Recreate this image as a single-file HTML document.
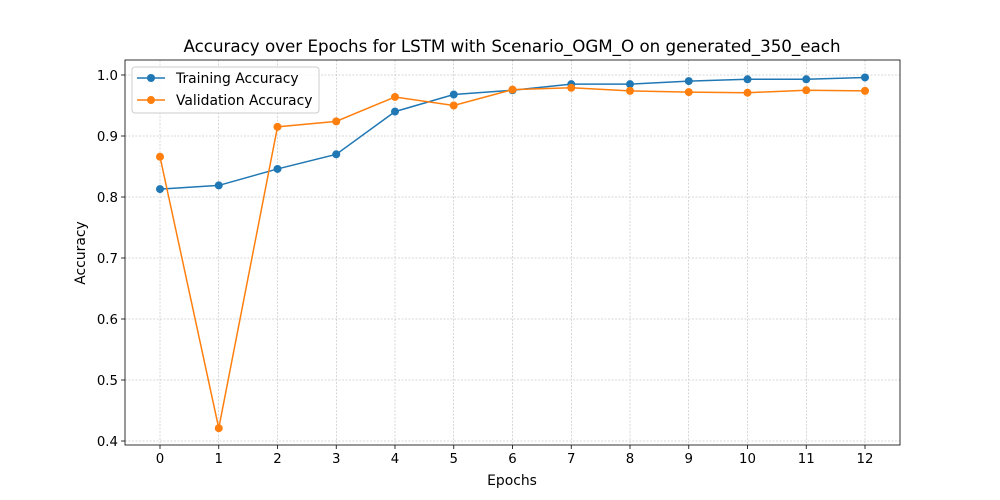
<!DOCTYPE html>
<html><head><meta charset="utf-8"><style>
body{margin:0;background:#fff;}
svg{display:block;font-family:"DejaVu Sans","Liberation Sans",sans-serif;}
</style></head><body>
<svg id="chart" width="1000" height="500"></svg>
<script>
const epochs=[0,1,2,3,4,5,6,7,8,9,10,11,12];
const trainAcc=[0.813,0.819,0.846,0.870,0.940,0.968,0.975,0.985,0.985,0.990,0.993,0.993,0.996];
const valAcc=[0.866,0.421,0.915,0.924,0.964,0.950,0.976,0.979,0.974,0.972,0.971,0.975,0.974];
const yTicks=[0.4,0.5,0.6,0.7,0.8,0.9,1.0];
const yTickLabels=["0.4","0.5","0.6","0.7","0.8","0.9","1.0"];

const NS="http://www.w3.org/2000/svg";
const svg=document.getElementById('chart');
const L=125,R=900,T=60,B=445;
const x=v=>160+v*(865-160)/12;
const y=v=>75+(1.0-v)*610;
function mk(tag,attrs,parent){const e=document.createElementNS(NS,tag);for(const k in attrs)e.setAttribute(k,attrs[k]);(parent||svg).appendChild(e);return e;}

const grid=mk('g',{});


epochs.forEach(e=>{
  mk('line',{x1:x(e),x2:x(e),y1:T,y2:B,stroke:'#b0b0b0','stroke-width':0.5,'stroke-dasharray':'2,1.5'},grid);
  mk('line',{x1:x(e),x2:x(e),y1:B,y2:B+4,stroke:'#000','stroke-width':0.8});
  const t=mk('text',{x:x(e),y:B+18,'text-anchor':'middle','font-size':13.3,fill:'#000'});
  t.textContent=e;
  
  
});
yTicks.forEach((v,i)=>{
  mk('line',{x1:L,x2:R,y1:y(v),y2:y(v),stroke:'#b0b0b0','stroke-width':0.5,'stroke-dasharray':'2,1.5'},grid);
  mk('line',{x1:L-4,x2:L,y1:y(v),y2:y(v),stroke:'#000','stroke-width':0.8});
  const t=mk('text',{x:L-7,y:y(v)+5,'text-anchor':'end','font-size':13.3,fill:'#000'});
  t.textContent=yTickLabels[i];
  
  
});
const frame=mk('rect',{x:L,y:T,width:R-L,height:B-T,fill:'none',stroke:'#000','stroke-width':0.8});



function series(data,color,name){
  const g=mk('g',{});
  
  
  mk('polyline',{points:data.map((v,i)=>x(epochs[i])+','+y(v)).join(' '),fill:'none',stroke:color,'stroke-width':1.5},g);
  data.forEach((v,i)=>{
    const c=mk('circle',{cx:x(epochs[i]),cy:y(v),r:4,fill:color},g);
    
    
  });
}
series(trainAcc,'#1f77b4','training-accuracy-series');
series(valAcc,'#ff7f0e','validation-accuracy-series');

const title=mk('text',{x:512,y:52,'text-anchor':'middle','font-size':16.7,fill:'#000'});
title.textContent='Accuracy over Epochs for LSTM with Scenario_OGM_O on generated_350_each';


const xt=mk('text',{x:512,y:485,'text-anchor':'middle','font-size':13.9,fill:'#000'});
xt.textContent='Epochs';


const yt=mk('text',{x:85,y:253,'text-anchor':'middle','font-size':13.9,fill:'#000',transform:'rotate(-90 85 253)'});
yt.textContent='Accuracy';



const lg=mk('g',{});


mk('rect',{x:132,y:67,width:187,height:46,rx:3,fill:'#fff','fill-opacity':0.8,stroke:'#ccc'},lg);
[['Training Accuracy','#1f77b4',78],['Validation Accuracy','#ff7f0e',100]].forEach(([n,c,yy])=>{
  const e=mk('g',{},lg);
  
  
  mk('line',{x1:137,x2:165,y1:yy,y2:yy,stroke:c,'stroke-width':1.5},e);
  mk('circle',{cx:151,cy:yy,r:4,fill:c},e);
  const t=mk('text',{x:176,y:yy+5,'font-size':13.9,fill:'#000'},e);
  t.textContent=n;
});
</script>
</body></html>
